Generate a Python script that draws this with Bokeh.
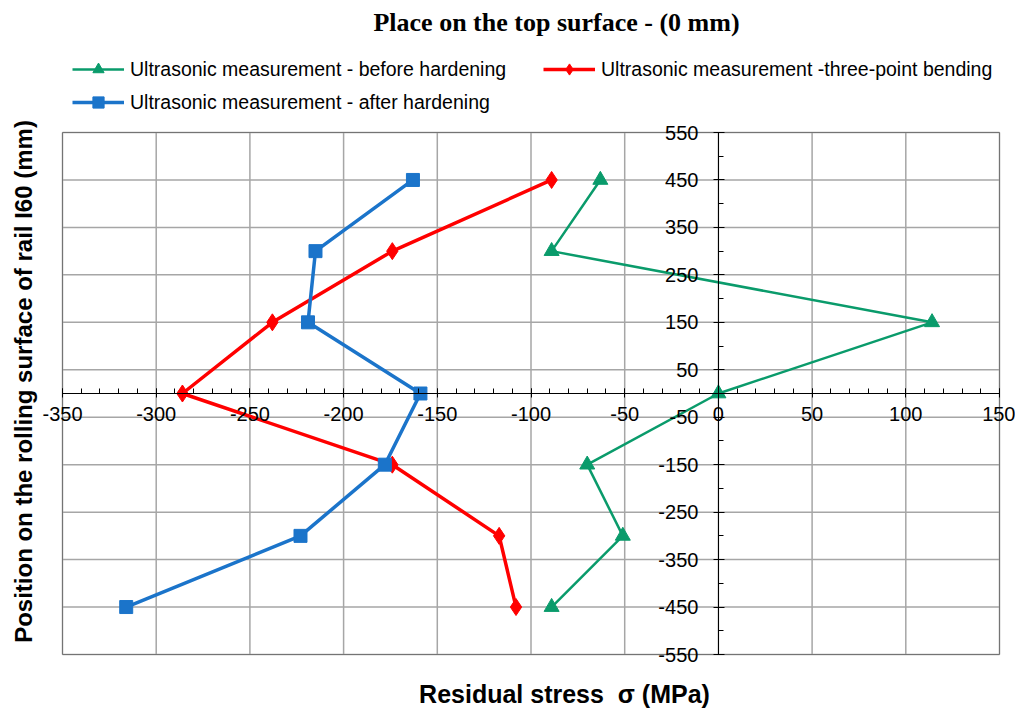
from bokeh.plotting import figure
from bokeh.models import (LinearAxis, FixedTicker, Range1d, Legend, LegendItem,
                          Label, Grid, ColumnDataSource, CustomJSTickFormatter,
                          BoxAnnotation)
from bokeh.embed import file_html
from bokeh.resources import INLINE

# ---------------- data ----------------
positions = [450, 300, 150, 0, -150, -300, -450]
before_hardening = [-63, -89, 114, 0, -70, -51, -89]
three_point_bending = [-89, -174, -238, -286, -174, -117, -108]
after_hardening = [-163, -215, -219, -159, -178, -223, -316]

series_names = ["Ultrasonic measurement - before hardening",
                "Ultrasonic measurement -three-point bending",
                "Ultrasonic measurement - after hardening"]

x_ticks = list(range(-350, 151, 50))
x_minor = list(range(-350, 151, 10))
y_ticks = list(range(-550, 551, 100))
y_minor = list(range(-550, 551, 50))

title_text = "Place on the top surface - (0 mm)"
x_label = "Residual stress \u00a0σ (MPa)"
y_label = "Position on the rolling surface of rail I60 (mm)"

GREEN = "#0A9B6B"
RED = "#FF0000"
BLUE = "#1B74CA"

# ---------------- layout (pixels) ----------------
W, H = 1015, 708
PL, PR, PT, PB = 62, 999, 132, 654          # plot-area box on the canvas
XMIN, XMAX = x_ticks[0], x_ticks[-1]
YMIN, YMAX = y_ticks[0], y_ticks[-1]
sx = (PR - PL) / (XMAX - XMIN)
sy = (PB - PT) / (YMAX - YMIN)

p = figure(width=W, height=H, output_backend="svg", toolbar_location=None,
           x_range=Range1d(XMIN - PL / sx, XMAX + (W - PR) / sx),
           y_range=Range1d(YMIN - (H - PB) / sy, YMAX + PT / sy),
           x_axis_location=None, y_axis_location=None, title=None,
           min_border=0, min_border_left=0, min_border_right=0,
           min_border_top=0, min_border_bottom=0)
p.outline_line_color = None
p.background_fill_color = "white"
p.border_fill_color = "white"
p.center = [r for r in p.center if not isinstance(r, Grid)]

# grid lines limited to the plot area
n_x, n_y = len(x_ticks), len(y_ticks)
p.segment(x0=x_ticks, y0=[YMIN] * n_x, x1=x_ticks, y1=[YMAX] * n_x,
          line_color="#A6A6A6", line_width=1.5)
p.segment(x0=[XMIN] * n_y, y0=y_ticks, x1=[XMAX] * n_y, y1=y_ticks,
          line_color="#A6A6A6", line_width=1.5)

# plot-area border
p.add_layout(BoxAnnotation(left=XMIN, right=XMAX, bottom=YMIN, top=YMAX,
                           fill_alpha=0, line_color="black", line_width=1))

fmt_code = "return tick.toString();"

# axes crossing at 0
xax = LinearAxis(fixed_location=0, bounds=(XMIN, XMAX),
                 ticker=FixedTicker(ticks=x_ticks, minor_ticks=x_minor),
                 formatter=CustomJSTickFormatter(code=fmt_code))
xax.axis_line_color = "black"
xax.axis_line_width = 1
xax.major_tick_in = 5
xax.major_tick_out = 4
xax.minor_tick_in = 5
xax.minor_tick_out = 0
xax.major_tick_line_color = "black"
xax.minor_tick_line_color = "black"
xax.major_label_standoff = 9
xax.major_label_text_font = "Liberation Sans"
xax.major_label_text_font_size = "20px"
xax.major_label_text_color = "black"
p.add_layout(xax, "below")

yax = LinearAxis(fixed_location=0, bounds=(YMIN, YMAX),
                 ticker=FixedTicker(ticks=y_ticks, minor_ticks=y_minor),
                 formatter=CustomJSTickFormatter(code=fmt_code))
yax.axis_line_color = "black"
yax.axis_line_width = 1
yax.major_tick_in = 6
yax.major_tick_out = 5
yax.minor_tick_in = 5
yax.minor_tick_out = 0
yax.major_tick_line_color = "black"
yax.minor_tick_line_color = "black"
yax.major_label_standoff = 15
yax.major_label_text_font = "Liberation Sans"
yax.major_label_text_font_size = "20px"
yax.major_label_text_color = "black"
p.add_layout(yax, "left")

# series
src = ColumnDataSource(dict(pos=positions, g=before_hardening,
                            r=three_point_bending, b=after_hardening))
gl = p.line("g", "pos", source=src, line_color=GREEN, line_width=2.5)
gs = p.scatter("g", "pos", source=src, marker="triangle", size=15,
               fill_color=GREEN, line_color=GREEN)
rl = p.line("r", "pos", source=src, line_color=RED, line_width=3.5)
rs = p.scatter("r", "pos", source=src, marker="diamond", size=17,
               fill_color=RED, line_color=RED)
bl = p.line("b", "pos", source=src, line_color=BLUE, line_width=3.5)
bs = p.scatter("b", "pos", source=src, marker="square", size=13,
               fill_color=BLUE, line_color=BLUE)

legend = Legend(items=[LegendItem(label=series_names[0], renderers=[gl, gs]),
                       LegendItem(label=series_names[1], renderers=[rl, rs]),
                       LegendItem(label=series_names[2], renderers=[bl, bs])],
                location=(67, H - 121), ncols=2, orientation="horizontal")
legend.border_line_alpha = 0
legend.background_fill_alpha = 0
legend.label_text_font = "Liberation Sans"
legend.label_text_font_size = "19.5px"
legend.label_text_color = "black"
legend.glyph_width = 52
legend.glyph_height = 28
legend.label_standoff = 6
legend.spacing = 5
legend.padding = 5
legend.margin = 0
legend.label_width = 408
legend.label_height = 28
p.add_layout(legend, "center")

# texts (screen units, measured from the canvas bottom-left)
p.add_layout(Label(x=556, y=H - 22, x_units="screen", y_units="screen",
                   text=title_text, text_align="center", text_baseline="middle",
                   text_font="Liberation Serif", text_font_style="bold",
                   text_font_size="26px", text_color="black"))
p.add_layout(Label(x=564, y=H - 693, x_units="screen", y_units="screen",
                   text=x_label, text_align="center", text_baseline="middle",
                   text_font="Liberation Sans", text_font_style="bold",
                   text_font_size="25px", text_color="black"))
p.add_layout(Label(x=23, y=H - 381, x_units="screen", y_units="screen",
                   text=y_label, text_align="center", text_baseline="middle",
                   angle=90, angle_units="deg",
                   text_font="Liberation Sans", text_font_style="bold",
                   text_font_size="24px", text_color="black"))

open("out.html", "w").write(file_html(p, INLINE))
